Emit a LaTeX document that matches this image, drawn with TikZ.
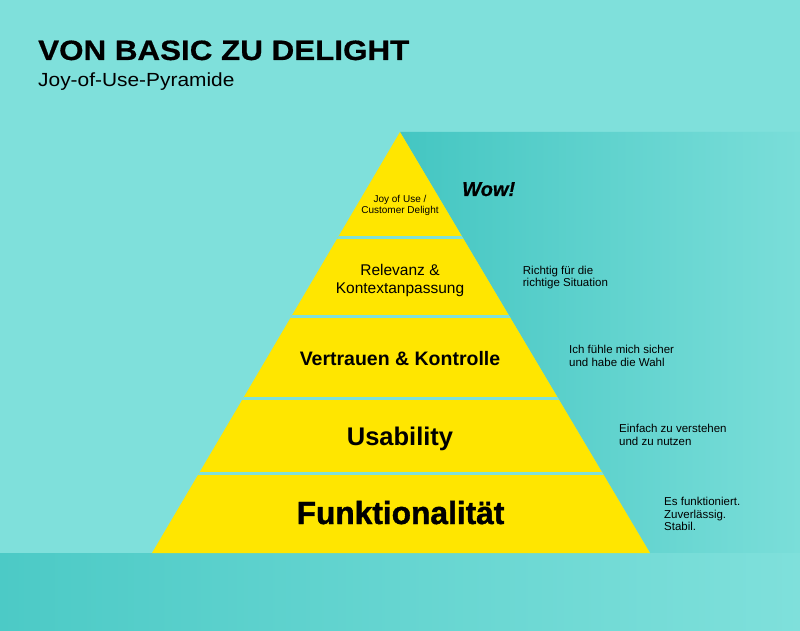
\documentclass[tikz,border=0pt]{standalone}
\usepackage{fontspec}
\setmainfont{Liberation Sans}
\newfontfamily\titlefont{Liberation Sans}[FakeStretch=1.12,FakeBold=0.6]
\newfontfamily\subfont{Liberation Sans}[FakeStretch=1.1]
\newfontfamily\heavyfont{Liberation Sans}[FakeStretch=0.99,FakeBold=1.3]
\newfontfamily\wowfont{Liberation Sans}[FakeBold=0.6]
\definecolor{bgteal}{HTML}{7FE0DB}
\definecolor{darkteal}{HTML}{44C6C2}
\definecolor{bandteal}{HTML}{4CCAC6}
\definecolor{pyryellow}{HTML}{FFE600}
\tikzset{
  txt/.style={inner sep=0pt, text=black},
  side/.style={txt, anchor=west, align=left, font=\fontsize{11.5}{12.8}\selectfont},
  sepline/.style={draw=bgteal, line width=3pt}
}
\begin{document}
\begin{tikzpicture}[x=1pt,y=-1pt]
\fill[bgteal] (0,0) rectangle (800,631);
\useasboundingbox (0,0) rectangle (800,631);
% shadow to the right of the pyramid
\begin{scope}
  \clip (400,132) -- (800,132) -- (800,553) -- (650,553) -- cycle;
  \shade[left color=darkteal, right color=bgteal!92!darkteal] (400,132) rectangle (800,553);
\end{scope}
% bottom band
\shade[left color=bandteal, right color=bgteal] (0,553) rectangle (800,631);
% pyramid
\coordinate (apex) at (400,132);
\coordinate (bl) at (152,553);
\coordinate (br) at (650,553);
\fill[pyryellow] (apex) -- (br) -- (bl) -- cycle;
\begin{scope}
  \clip (apex) -- (br) -- (bl) -- cycle;
  \foreach \yy in {237.5,316.5,398.5,473.5}
    \draw[sepline] (100,\yy) -- (700,\yy);
\end{scope}
% title
\node[txt, anchor=base west, font=\titlefont\fontsize{28}{30}\selectfont\bfseries] (title) at (38,60) {VON BASIC ZU DELIGHT};
\node[txt, anchor=base west, font=\subfont\fontsize{19}{21}\selectfont] (subtitle) at (38,86.7) {Joy-of-Use-Pyramide};
% pyramid labels
\node[txt, align=center, font=\fontsize{10}{11.8}\selectfont] (l5) at (400,205.5) {Joy of Use /\\Customer Delight};
\node[txt, align=center, font=\fontsize{15.5}{17.5}\selectfont] (l4) at (400,280.5) {Relevanz \&\\Kontextanpassung};
\node[txt, anchor=base, font=\fontsize{19.5}{21}\selectfont\bfseries] (l3) at (400,365) {Vertrauen \& Kontrolle};
\node[txt, anchor=base, font=\fontsize{25.5}{27}\selectfont\bfseries] (l2) at (400,445) {Usability};
\node[txt, anchor=base, font=\heavyfont\fontsize{32}{34}\selectfont\bfseries] (l1) at (400.5,524) {Funktionalität};
% side labels
\node[txt, anchor=base west, font=\wowfont\fontsize{20}{22}\selectfont\bfseries\itshape] (wow) at (462,196) {Wow!};
\node[side] (s4) at (522.7,277.5) {Richtig für die\\richtige Situation};
\node[side] (s3) at (569,356) {Ich fühle mich sicher\\und habe die Wahl};
\node[side] (s2) at (619,435) {Einfach zu verstehen\\und zu nutzen};
\node[side] (s1) at (664,514) {Es funktioniert.\\Zuverlässig.\\Stabil.};
\end{tikzpicture}
\end{document}
